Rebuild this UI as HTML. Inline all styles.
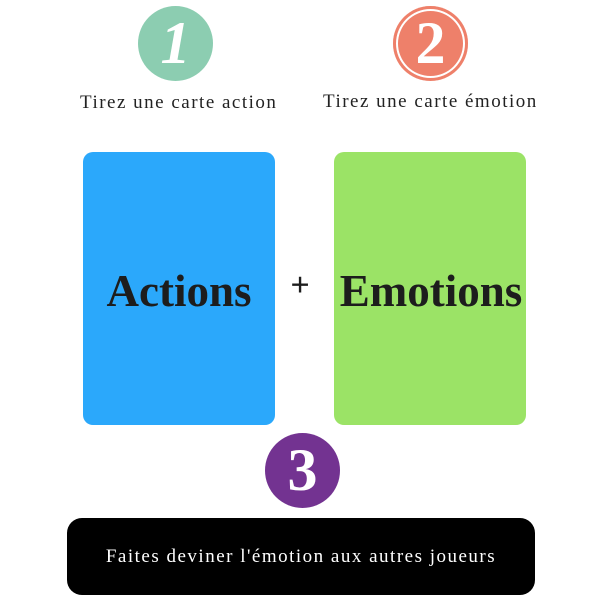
<!DOCTYPE html>
<html><head><style>
body{margin:0;width:600px;height:600px;background:#fff;position:relative;overflow:hidden;font-family:"Liberation Serif",serif}
.c{position:absolute;border-radius:50%;color:#fff;text-align:center;font-weight:bold}
.t{position:absolute;font-size:19px;letter-spacing:1.5px;color:#222;white-space:nowrap}
.card{position:absolute;top:152px;width:192px;height:273px;border-radius:10px}
.big{position:absolute;font-weight:bold;font-size:45px;color:#1d1d1d;white-space:nowrap;transform:translateX(-50%)}
</style></head><body>
<div class="c" style="left:138px;top:6px;width:75px;height:75px;background:#8ccdb1;font-size:60px;line-height:75px;font-style:italic">1</div>
<div class="c" style="left:393px;top:6px;width:75px;height:75px;background:#ee806a;font-size:60px;line-height:75px;box-shadow:inset 0 0 0 3px #ee806a,inset 0 0 0 5px #fff">2</div>
<div class="t" style="left:80px;top:92px">Tirez une carte action</div>
<div class="t" style="left:323px;top:91px">Tirez une carte émotion</div>
<div class="card" style="left:83px;background:#2ba8fb"></div>
<div class="card" style="left:334px;background:#9be366"></div>
<div class="big" style="left:179px;top:265px">Actions</div>
<div class="big" style="left:300px;top:267px;font-size:34px">+</div>
<div class="big" style="left:431px;top:265px">Emotions</div>
<div class="c" style="left:265px;top:433px;width:75px;height:75px;background:#733391;font-size:60px;line-height:75px">3</div>
<div style="position:absolute;left:67px;top:518px;width:468px;height:77px;background:#000;border-radius:15px;color:#fff;font-size:19px;letter-spacing:1.5px;text-align:center;line-height:77px">Faites deviner l'émotion aux autres joueurs</div>
</body></html>
